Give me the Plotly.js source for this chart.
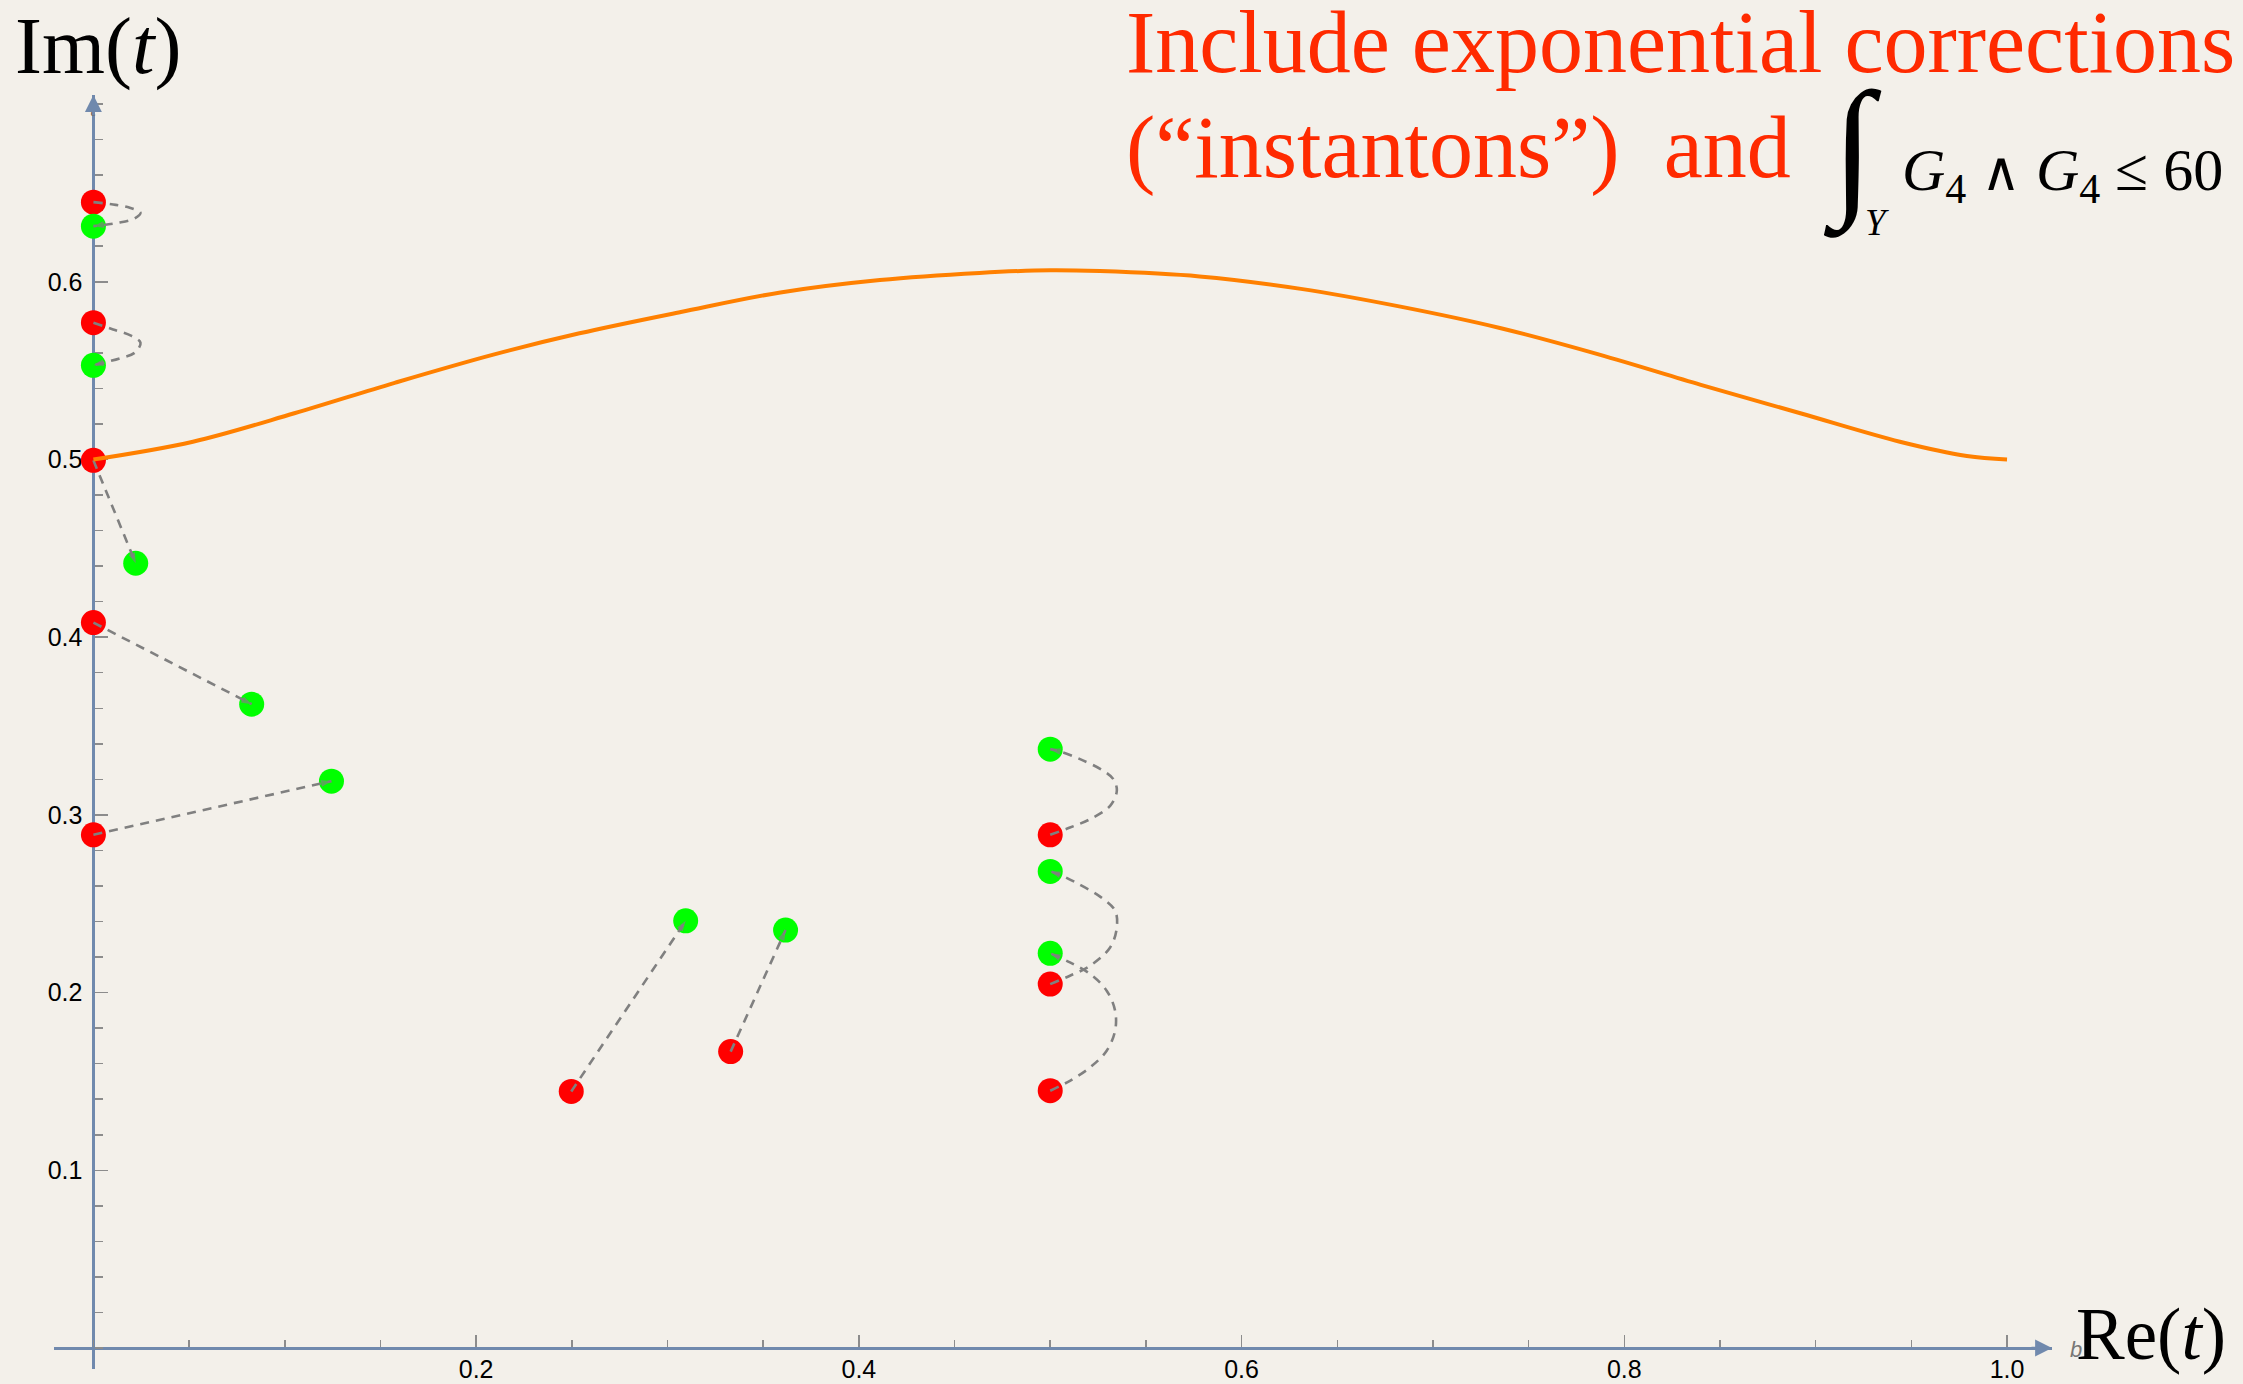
<!DOCTYPE html>
<html><head><meta charset="utf-8">
<script src="https://cdn.plot.ly/plotly-3.0.1.min.js"></script>
<style>html,body{margin:0;padding:0;background:#f3f0ea;} #chart{width:2243px;height:1384px;}</style>
</head><body><div id="chart"></div>
<script>
// ---- data ----
const redX   = [0, 0, 0, 0, 0, 0.2497, 0.3330, 0.5, 0.5, 0.5];
const redY   = [0.6448, 0.5770, 0.4995, 0.4082, 0.2888, 0.1444, 0.1668, 0.2888, 0.2048, 0.1448];
const greenX = [0, 0, 0.0221, 0.0827, 0.1244, 0.3095, 0.3617, 0.5, 0.5, 0.5];
const greenY = [0.6313, 0.5530, 0.4416, 0.3623, 0.3190, 0.2404, 0.2352, 0.3370, 0.2682, 0.2221];
// intermediate points of each flow path (red start -> green end)
const pathMidX = [
  [0.0103, 0.0190, 0.0246, 0.0216, 0.0129],
  [0.0103, 0.0199, 0.0246, 0.0216, 0.0137],
  [], [], [], [], [],
  [0.5103, 0.5208, 0.5313, 0.5348, 0.5330, 0.5278, 0.5156, 0.5051],
  [0.5103, 0.5208, 0.5313, 0.5348, 0.5339, 0.5266, 0.5143, 0.5051],
  [0.5103, 0.5208, 0.5295, 0.5339, 0.5339, 0.5295, 0.5208, 0.5103]
];
const pathMidY = [
  [0.6435, 0.6416, 0.6388, 0.6357, 0.6332],
  [0.5732, 0.5695, 0.5657, 0.5601, 0.5569],
  [], [], [], [], [],
  [0.2929, 0.2976, 0.3051, 0.3136, 0.3201, 0.3248, 0.3314, 0.3357],
  [0.2095, 0.2151, 0.2254, 0.2367, 0.2461, 0.2536, 0.2614, 0.2663],
  [0.1504, 0.1579, 0.1673, 0.1786, 0.1898, 0.2011, 0.2105, 0.2170]
];
const boundX = [0, 0.052, 0.105, 0.157, 0.209, 0.254, 0.307, 0.359, 0.411, 0.463, 0.5, 0.526, 0.578, 0.631, 0.683, 0.735, 0.787, 0.840, 0.892, 0.944, 0.979, 1.0];
const boundY = [0.5, 0.510, 0.526, 0.543, 0.559, 0.571, 0.583, 0.594, 0.601, 0.605, 0.6065, 0.606, 0.603, 0.596, 0.586, 0.574, 0.559, 0.542, 0.526, 0.510, 0.502, 0.5];
const xTickVals = [0.2, 0.4, 0.6, 0.8, 1.0];
const xTickText = ['0.2', '0.4', '0.6', '0.8', '1.0'];
const yTickVals = [0.1, 0.2, 0.3, 0.4, 0.5, 0.6];
const yTickText = ['0.1', '0.2', '0.3', '0.4', '0.5', '0.6'];

// ---- layout geometry ----
const WIDTH = 2243, HEIGHT = 1384;
const M = {l: 54, r: 191, t: 95, b: 15};
const xRange = [-0.0206, 1.0235];
const yRange = [-0.0118, 0.7051];
const PW = WIDTH - M.l - M.r, PH = HEIGHT - M.t - M.b;
const px = v => (v - M.l) / PW;             // page x pixel -> paper
const py = v => (HEIGHT - M.b - v) / PH;    // page y pixel -> paper
const AXIS = '#7089ad', TICK = '#8c8c8c', BG = '#f3f0ea';

const traces = [];
traces.push({x: redX, y: redY, mode: 'markers', type: 'scatter', cliponaxis: false,
  marker: {color: '#ff0000', size: 25}, hoverinfo: 'skip'});
traces.push({x: greenX, y: greenY, mode: 'markers', type: 'scatter', cliponaxis: false,
  marker: {color: '#00ff00', size: 25}, hoverinfo: 'skip'});
for (let i = 0; i < redX.length; i++) {
  const xs = [redX[i], ...pathMidX[i], greenX[i]];
  const ys = [redY[i], ...pathMidY[i], greenY[i]];
  const n = xs.length;
  traces.push({x: xs, y: ys, type: 'scatter', mode: 'lines+markers', cliponaxis: false,
    line: {color: '#808080', width: 2.6, dash: '9px,7px', shape: 'spline', smoothing: 1},
    marker: {color: '#808080', symbol: xs.map((_, k) => k === n - 1 ? 'arrow' : 'circle'),
      size: xs.map((_, k) => k === n - 1 ? 11 : 0), angleref: 'previous', line: {width: 0}},
    hoverinfo: 'skip'});
}
traces.push({x: boundX, y: boundY, type: 'scatter', mode: 'lines', cliponaxis: false,
  line: {color: '#ff8000', width: 4, shape: 'spline', smoothing: 1}, hoverinfo: 'skip'});

const serif = 'Liberation Serif, Times New Roman, serif';
const red = '#ff2a00';
const annotations = [
  {text: 'Im(<i>t</i>)', xref: 'paper', yref: 'paper', x: px(13), y: py(46), xanchor: 'left', yanchor: 'middle',
   showarrow: false, font: {family: serif, size: 81, color: '#000'}},
  {text: 'Re(<i>t</i>)', xref: 'paper', yref: 'paper', x: px(2074), y: py(1334), xanchor: 'left', yanchor: 'middle',
   showarrow: false, font: {family: serif, size: 73, color: '#000'}},
  {text: '<i>b</i>', xref: 'paper', yref: 'paper', x: px(2068), y: py(1349), xanchor: 'left', yanchor: 'middle',
   showarrow: false, font: {family: 'Liberation Sans, Arial, sans-serif', size: 22, color: '#777'}},
  {text: '<i>t</i>', xref: 'paper', yref: 'paper', x: px(93), y: py(108), xanchor: 'center', yanchor: 'middle',
   showarrow: false, font: {family: 'Liberation Sans, Arial, sans-serif', size: 22, color: '#666'}},
  {text: 'Include exponential corrections', xref: 'paper', yref: 'paper', x: px(1124), y: py(43), xanchor: 'left', yanchor: 'middle',
   showarrow: false, font: {family: serif, size: 88, color: red}},
  {text: '(\u201cinstantons\u201d)\u00a0 and', xref: 'paper', yref: 'paper', x: px(1124), y: py(147), xanchor: 'left', yanchor: 'middle',
   showarrow: false, font: {family: serif, size: 88, color: red}},
  {text: '\u222b', xref: 'paper', yref: 'paper', x: px(1852), y: py(150), xanchor: 'center', yanchor: 'middle',
   showarrow: false, font: {family: serif, size: 152, color: '#000'}},
  {text: '<i>Y</i>', xref: 'paper', yref: 'paper', x: px(1877), y: py(222), xanchor: 'center', yanchor: 'middle',
   showarrow: false, font: {family: serif, size: 37, color: '#000'}},
  {text: '<i>G</i><sub>4</sub>\u00a0<span style="font-family:DejaVu Serif;font-size:54px">\u2227</span>\u00a0<i>G</i><sub>4</sub>\u00a0\u2264\u00a060',
   xref: 'paper', yref: 'paper', x: px(1900), y: py(174), xanchor: 'left', yanchor: 'middle',
   showarrow: false, font: {family: serif, size: 60, color: '#000'}},
  // axis arrowheads
  {text: '', xref: 'x', yref: 'paper', x: 0, y: 1, ax: 0, ay: 22, showarrow: true,
   arrowhead: 2, arrowsize: 1.3, arrowwidth: 2.6, arrowcolor: AXIS, standoff: 0},
  {text: '', xref: 'paper', yref: 'y', x: 1, y: 0, ax: -22, ay: 0, showarrow: true,
   arrowhead: 2, arrowsize: 1.3, arrowwidth: 2.6, arrowcolor: AXIS, standoff: 0}
];

const tickFont = {family: 'Liberation Sans, Arial, sans-serif', size: 25, color: '#000'};
const layout = {
  width: WIDTH, height: HEIGHT, margin: M,
  paper_bgcolor: BG, plot_bgcolor: BG, showlegend: false,
  xaxis: {range: xRange, anchor: 'free', position: (0 - yRange[0]) / (yRange[1] - yRange[0]),
    showgrid: false, zeroline: false, showline: true, linecolor: AXIS, linewidth: 3, layer: 'below traces',
    tickmode: 'array', tickvals: xTickVals, ticktext: xTickText, ticks: 'inside', ticklen: 12, tickwidth: 1.5, tickcolor: TICK,
    minor: {dtick: 0.05, tick0: 0, ticks: 'inside', ticklen: 7, tickwidth: 1.5, tickcolor: TICK},
    tickfont: tickFont, ticklabelstandoff: -2},
  yaxis: {range: yRange, anchor: 'free', position: (0 - xRange[0]) / (xRange[1] - xRange[0]),
    showgrid: false, zeroline: false, showline: true, linecolor: AXIS, linewidth: 3, layer: 'below traces',
    tickmode: 'array', tickvals: yTickVals, ticktext: yTickText, ticks: 'inside', ticklen: 13, tickwidth: 1.5, tickcolor: TICK,
    minor: {dtick: 0.02, tick0: 0, ticks: 'inside', ticklen: 8, tickwidth: 1.5, tickcolor: TICK},
    tickfont: tickFont, ticklabelstandoff: 5},
  annotations: annotations
};
Plotly.newPlot('chart', traces, layout, {staticPlot: true, displayModeBar: false});
</script></body></html>
